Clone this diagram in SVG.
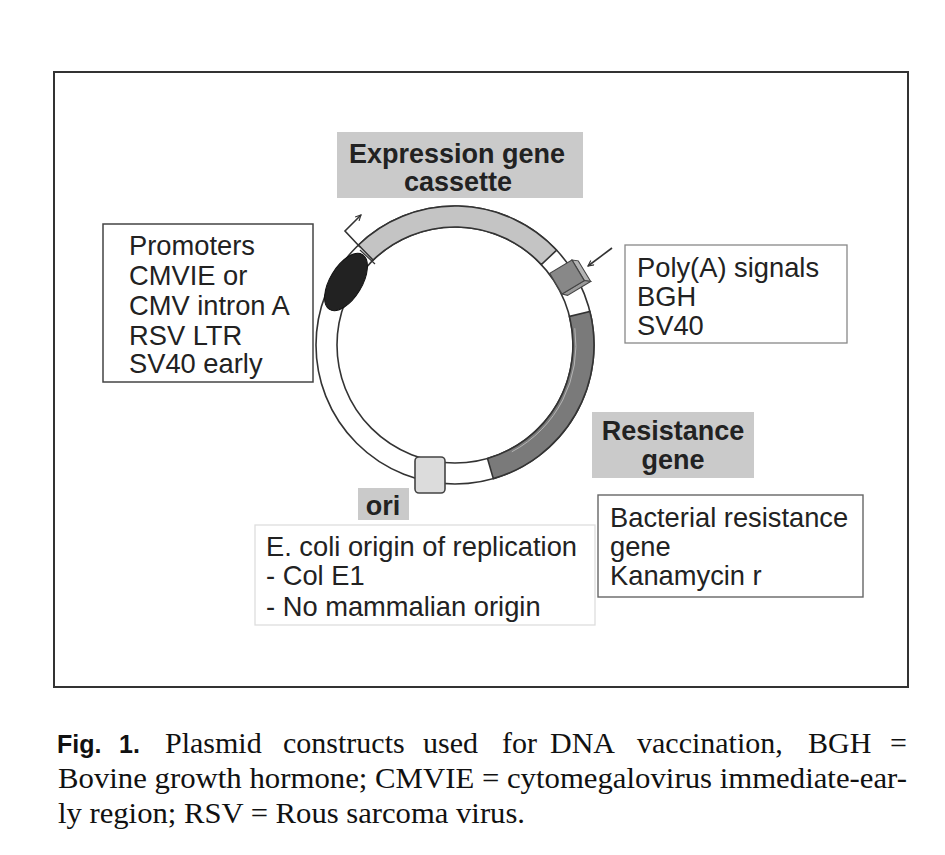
<svg xmlns="http://www.w3.org/2000/svg" width="945" height="855" viewBox="0 0 945 855">
<style>
.t{font-family:"Liberation Sans",Arial,sans-serif;font-size:27.3px;fill:#222}
.b{font-family:"Liberation Sans",Arial,sans-serif;font-size:27px;font-weight:bold;fill:#222}
.cap{font-family:"Liberation Serif","Times New Roman",serif;font-size:30px;fill:#111}
.capb{font-family:"Liberation Sans",Arial,sans-serif;font-size:25px;font-weight:bold;fill:#111}
.lbl{fill:#cacaca}
.ring{fill:none;stroke:#333;stroke-width:1.6}
.conn{fill:none;stroke:#333;stroke-width:1.6}
</style>
<defs>
<marker id="ah" viewBox="0 0 10 10" refX="9" refY="5" markerWidth="7" markerHeight="7" orient="auto" markerUnits="userSpaceOnUse">
<path d="M1,1 L9,5 L1,9" fill="none" stroke="#333" stroke-width="1.6"/>
</marker>
</defs>
<rect width="945" height="855" fill="#fff"/>
<rect id="frame" x="54" y="72" width="854" height="615" fill="none" stroke="#333" stroke-width="2"/>

<g id="plasmid">
<circle cx="455" cy="345" r="128.5" fill="none" stroke="#fff" stroke-width="21"/>
<circle class="ring" cx="455" cy="345" r="139"/>
<circle class="ring" cx="455" cy="345" r="118"/>
</g>
<g id="expression-cassette-arc">
<path d="M358.44 245.02 A139 139 0 0 1 556.66 250.2 L541.3 264.52 A118 118 0 0 0 373.03 260.12 Z" fill="#c4c4c4" stroke="#333" stroke-width="1.6"/>
</g>
<g id="resistance-arc">
<path d="M589.87 311.37 A139 139 0 0 1 493.31 478.62 L487.52 458.43 A118 118 0 0 0 569.49 316.45 Z" fill="#7a7a7a" stroke="#333" stroke-width="1.6"/>
<path d="M574.8 328.2 A121 121 0 0 1 511.8 451.8" fill="none" stroke="#b5b5b5" stroke-width="1"/>
</g>
<g id="promoter">
<line x1="360" y1="250" x2="375" y2="264" stroke="#333" stroke-width="1.2"/>
<ellipse cx="346" cy="282" rx="32" ry="16" transform="rotate(-59 346 282)" fill="#222" stroke="#111" stroke-width="1"/>
</g>
<g id="polya-box" transform="translate(567 277) rotate(59)">
<polygon points="-12,-13 -8,-18 16,-18 12,-13" fill="#b4b4b4" stroke="#444" stroke-width="1"/>
<polygon points="12,-13 16,-18 16,9 12,13" fill="#9a9a9a" stroke="#444" stroke-width="1"/>
<rect x="-12" y="-13" width="24" height="26" fill="#888" stroke="#444" stroke-width="1.2"/>
</g>
<g id="ori-box">
<rect x="415" y="457" width="30" height="36" rx="4" fill="#dcdcdc" stroke="#444" stroke-width="1.6"/>
</g>

<g id="connectors">
<polyline class="conn" points="360,247 345,231 361,215" marker-end="url(#ah)"/>
<line class="conn" x1="612" y1="248" x2="588" y2="266" marker-end="url(#ah)"/>
</g>

<g id="expression-label">
<rect class="lbl" x="337" y="132" width="246" height="66"/>
<text class="b" x="457" y="163" text-anchor="middle">Expression gene</text>
<text class="b" x="458" y="191" text-anchor="middle">cassette</text>
</g>
<g id="promoters-box">
<rect x="103" y="224" width="210" height="158" fill="#fff" stroke="#444" stroke-width="1.5"/>
<text class="t" x="129" y="255">Promoters</text>
<text class="t" x="129" y="285">CMVIE or</text>
<text class="t" x="129" y="315">CMV intron A</text>
<text class="t" x="129" y="345">RSV LTR</text>
<text class="t" x="129" y="373">SV40 early</text>
</g>
<g id="polya-label">
<rect x="625" y="245" width="222" height="98" fill="#fff" stroke="#888" stroke-width="1.3"/>
<text class="t" x="637" y="277">Poly(A) signals</text>
<text class="t" x="637" y="306">BGH</text>
<text class="t" x="637" y="335">SV40</text>
</g>
<g id="resistance-label">
<rect class="lbl" x="592" y="412" width="162" height="66"/>
<text class="b" x="673" y="440" text-anchor="middle">Resistance</text>
<text class="b" x="673" y="469" text-anchor="middle">gene</text>
</g>
<g id="bacterial-box">
<rect x="598" y="495" width="265" height="102" fill="#fff" stroke="#666" stroke-width="1.4"/>
<text class="t" x="610" y="527">Bacterial resistance</text>
<text class="t" x="610" y="556">gene</text>
<text class="t" x="610" y="585">Kanamycin r</text>
</g>
<g id="ori-label">
<rect class="lbl" x="358" y="488" width="51" height="32"/>
<text class="b" x="383" y="515" text-anchor="middle">ori</text>
</g>
<g id="ecoli-box">
<rect x="255" y="525" width="340" height="100" fill="#fff" stroke="#ddd" stroke-width="1.3"/>
<text class="t" x="266" y="556">E. coli origin of replication</text>
<text class="t" x="266" y="585">- Col E1</text>
<text class="t" x="266" y="616">- No mammalian origin</text>
</g>

<g id="caption">
<text class="capb" x="57" y="753">Fig.</text>
<text class="capb" x="119" y="753">1.</text>
<text class="cap" y="753"><tspan x="165">Plasmid</tspan><tspan x="283">constructs</tspan><tspan x="423">used</tspan><tspan x="502">for</tspan><tspan x="550">DNA</tspan><tspan x="637">vaccination,</tspan><tspan x="808">BGH</tspan><tspan x="890">=</tspan></text>
<text class="cap" x="58" y="788" textLength="849" lengthAdjust="spacingAndGlyphs">Bovine growth hormone; CMVIE = cytomegalovirus immediate-ear-</text>
<text class="cap" x="58" y="823" textLength="467" lengthAdjust="spacingAndGlyphs">ly region; RSV = Rous sarcoma virus.</text>
</g>
</svg>
